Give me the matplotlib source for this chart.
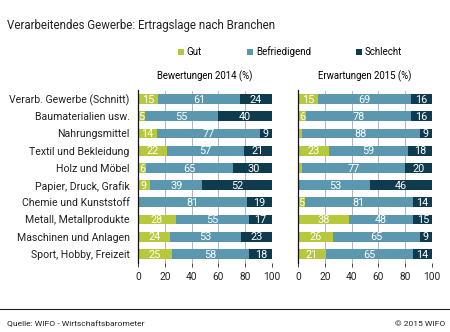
import matplotlib
matplotlib.use("Agg")
import matplotlib.pyplot as plt
import numpy as np

plt.rcParams['font.family'] = ['Roboto', 'DejaVu Sans']

branchen = ['Verarb. Gewerbe (Schnitt)', 'Baumaterialien usw.', 'Nahrungsmittel',
            'Textil und Bekleidung', 'Holz und Möbel', 'Papier, Druck, Grafik',
            'Chemie und Kunststoff', 'Metall, Metallprodukte', 'Maschinen und Anlagen',
            'Sport, Hobby, Freizeit']

gut_2014 = [15, 5, 14, 22, 6, 9, 0, 28, 24, 25]
bef_2014 = [61, 55, 77, 57, 65, 39, 81, 55, 53, 58]
schl_2014 = [24, 40, 9, 21, 30, 52, 19, 17, 23, 18]

gut_2015 = [15, 6, 3, 23, 3, 1, 5, 38, 26, 21]
bef_2015 = [69, 78, 88, 59, 77, 53, 81, 48, 65, 65]
schl_2015 = [16, 16, 9, 18, 20, 46, 14, 15, 9, 14]

farben = {'Gut': '#b8c83c', 'Befriedigend': '#5b97ae', 'Schlecht': '#0f3b4f'}
ticks = [0, 20, 40, 60, 80, 100]

fig = plt.figure(figsize=(4.5, 3.32), dpi=100)
W, H = 450, 332

def px_axes(x0, x1, y0, y1):
    return fig.add_axes([x0 / W, 1 - y1 / H, (x1 - x0) / W, (y1 - y0) / H])

ax1 = px_axes(138, 272, 90.5, 262.5)
ax2 = px_axes(298, 432, 90.5, 262.5)

y = np.arange(len(branchen))

def panel(ax, gut, bef, schl, titel):
    left = np.zeros(len(y))
    for name, vals in (('Gut', gut), ('Befriedigend', bef), ('Schlecht', schl)):
        vals = np.array(vals, dtype=float)
        ax.barh(y, vals, left=left, height=0.58, color=farben[name], zorder=2, label=name)
        for yi, l, v in zip(y, left, vals):
            if v >= 5:
                ax.text(l + v / 2, yi + 0.04, f'{int(v)}', ha='center', va='center',
                        color='white', fontsize=7.8, zorder=3)
        left += vals
    ax.set_xlim(0, 100)
    ax.set_ylim(len(y) - 0.5, -0.5)
    ax.set_xticks(ticks)
    ax.tick_params(axis='x', length=3, width=0.6, labelsize=7.3, pad=4, colors='#222222')
    ax.tick_params(axis='y', length=0)
    for s in ('top', 'right', 'bottom'):
        ax.spines[s].set_visible(False)
    ax.spines['left'].set_linewidth(0.9)
    ax.spines['left'].set_color('#111111')
    for g in ticks[1:]:
        ax.axvline(g, color='#a8a8a8', lw=0.6, zorder=1)
    ax.set_title(titel, fontsize=6.9, pad=8)

panel(ax1, gut_2014, bef_2014, schl_2014, 'Bewertungen 2014 (%)')
panel(ax2, gut_2015, bef_2015, schl_2015, 'Erwartungen 2015 (%)')

ax1.set_yticks(y)
ax1.set_yticklabels(branchen, fontsize=7.6, color='#222222')
ax1.tick_params(axis='y', pad=6)
ax2.set_yticks([])

fig.text(7 / W, 1 - 25 / H, 'Verarbeitendes Gewerbe: Ertragslage nach Branchen',
         fontsize=8.3, ha='left', va='center', color='#222222')

handles, labels = ax1.get_legend_handles_labels()
fig.legend(handles, labels, loc='center', bbox_to_anchor=(290 / W, 1 - 52 / H),
           ncol=3, frameon=False, fontsize=7, handlelength=0.65, handleheight=0.65,
           handletextpad=0.3, columnspacing=4.6, borderpad=0, borderaxespad=0)

fig.add_artist(plt.Line2D([0, 1], [1 - 309 / H, 1 - 309 / H], color='#222222', lw=0.8))
fig.text(7 / W, 1 - 324 / H, 'Quelle: WIFO - Wirtschaftsbarometer', fontsize=6.1,
         ha='left', va='center', color='#222222')
fig.text(445 / W, 1 - 324 / H, '© 2015 WIFO', fontsize=6.1, ha='right', va='center',
         color='#222222')

fig.savefig('out.png', dpi=100)
